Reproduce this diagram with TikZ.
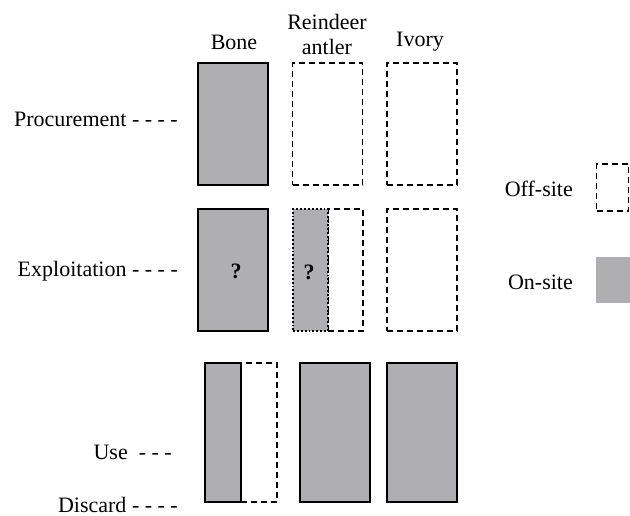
\documentclass[tikz,border=0pt]{standalone}
\usepackage{fontspec}
\setmainfont{Liberation Serif}
\definecolor{onsite}{RGB}{175,175,177}
\begin{document}
\begin{tikzpicture}[x=1bp,y=-1bp,
  lbl/.style={font=\fontsize{22bp}{24bp}\selectfont, inner sep=0pt},
  offbox/.style={draw=black, line width=1.7bp, dash pattern=on 6bp off 4bp, fill=white, inner sep=0pt},
  onbox/.style={draw=black, line width=1.9bp, fill=onsite, inner sep=0pt},
  dotbox/.style={draw=black, line width=1.9bp, dotted, fill=onsite, inner sep=0pt},
  qm/.style={font=\fontsize{22bp}{24bp}\selectfont\bfseries, inner sep=0pt}]
\useasboundingbox (0,0) rectangle (630,516);
% column headers
\node[lbl] (hbone) at (234,42) {Bone};
\node[lbl] (hrein1) at (327,22) {Reindeer};
\node[lbl] (hrein2) at (327,47) {antler};
\node[lbl] (hivory) at (420,42) {Ivory};
% row labels
\node[lbl, anchor=east] (lproc) at (178,119) {Procurement - - - -};
\node[lbl, anchor=east] (lexpl) at (178,271) {Exploitation - - - -};
\node[lbl, anchor=east] (luse) at (172,452) {Use\ \ - - -};
\node[lbl, anchor=east] (ldisc) at (178,505) {Discard - - - -};
% row 1: procurement
\node[onbox, minimum width=70bp, minimum height=122bp] (pbone) at (233,124) {};
\node[offbox, minimum width=70bp, minimum height=122bp] (prein) at (327.5,124) {};
\node[offbox, minimum width=70bp, minimum height=122bp] (pivory) at (422,124) {};
% row 2: exploitation
\node[onbox, minimum width=70bp, minimum height=122bp] (ebone) at (233,270) {};
\node[qm] (ebq) at (236,271) {?};
\node[offbox, minimum width=35bp, minimum height=122bp] (ereinoff) at (345.5,270) {};
\node[dotbox, minimum width=35bp, minimum height=122bp] (ereinon) at (310.5,270) {};
\node[qm] (erq) at (309,272) {?};
\node[offbox, minimum width=70bp, minimum height=122bp] (eivory) at (422,270) {};
% row 3: use / discard
\node[offbox, minimum width=36bp, minimum height=139bp] (uboneoff) at (259,432.5) {};
\node[onbox, minimum width=36bp, minimum height=139bp] (uboneon) at (223,432.5) {};
\node[onbox, minimum width=70bp, minimum height=139bp] (urein) at (335,432.5) {};
\node[onbox, minimum width=70bp, minimum height=139bp] (uivory) at (422,432.5) {};
% legend
\node[lbl, anchor=east] (loff) at (573,189) {Off-site};
\node[offbox, minimum width=32bp, minimum height=47bp] (kboxoff) at (612.5,187.5) {};
\node[lbl, anchor=east] (lon) at (573,282) {On-site};
\node[fill=onsite, inner sep=0pt, minimum width=34bp, minimum height=46bp] (kboxon) at (613,280) {};
\end{tikzpicture}
\end{document}
